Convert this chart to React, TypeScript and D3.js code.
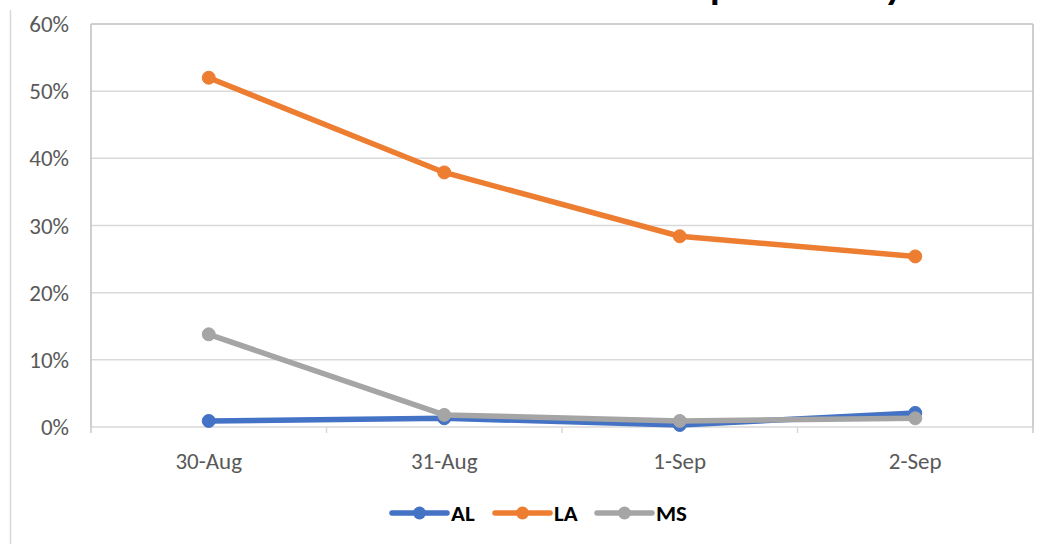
import React from "react";
import * as d3 from "d3";

const categories = ["30-Aug", "31-Aug", "1-Sep", "2-Sep"];
const seriesNames = ["AL", "LA", "MS"];
const alValues = [0.009, 0.013, 0.003, 0.021];
const laValues = [0.52, 0.379, 0.284, 0.254];
const msValues = [0.138, 0.018, 0.009, 0.013];
const yTicks = [0, 0.1, 0.2, 0.3, 0.4, 0.5, 0.6];
const colors = ["#4472C4", "#ED7D31", "#A5A5A5"];
const titleText = "Percent of customers without service per state by date";

const W = 1051;
const H = 544;
const plot = { left: 91, right: 1033, top: 24, bottom: 427 };

export default function App() {
  const series = [alValues, laValues, msValues];
  const x = d3
    .scaleBand<string>()
    .domain(categories)
    .range([plot.left, plot.right])
    .padding(0);
  const y = d3.scaleLinear().domain([0, 0.6]).range([plot.bottom, plot.top]);
  const cx = (i: number) => (x(categories[i]) as number) + x.bandwidth() / 2;
  const line = d3
    .line<number>()
    .x((_, i) => cx(i))
    .y((d) => y(d));
  const fmt = d3.format(".0%");
  const font = "Calibri, Carlito, Lato, 'Liberation Sans', Arial, sans-serif";
  const boundaries = d3.range(categories.length + 1).map((i) => plot.left + i * x.bandwidth());
  const legendX = [392, 495, 597];
  const legendY = 513;
  const drawOrder = [1, 0, 2];

  return (
    <svg
      width={W}
      height={H}
      style={{ position: "absolute", left: 0, top: 0, background: "#fff" }}
      fontFamily={font}
    >
      <rect x={0} y={0} width={W} height={H} fill="#fff" />
      <line x1={10.5} x2={10.5} y1={10} y2={H} stroke="#D9D9D9" strokeWidth={1.5} />
      <text
        x={95}
        y={0}
        textLength={890}
        lengthAdjust="spacingAndGlyphs"
        fontSize={32}
        fontWeight="bold"
        fill="#000"
      >
        {titleText}
      </text>
      {yTicks.map((t) => (
        <line
          key={"g" + t}
          x1={plot.left}
          x2={plot.right}
          y1={y(t)}
          y2={y(t)}
          stroke={t === 0.6 ? "#BFBFBF" : "#D9D9D9"}
          strokeWidth={1.5}
        />
      ))}
      <line x1={plot.right} x2={plot.right} y1={plot.top} y2={plot.bottom + 6} stroke="#BFBFBF" strokeWidth={1.5} />
      <line x1={plot.left} x2={plot.left} y1={plot.top} y2={plot.bottom + 6} stroke="#BFBFBF" strokeWidth={1.5} />
      {boundaries.map((b, i) => (
        <line key={"t" + i} x1={b} x2={b} y1={plot.bottom} y2={plot.bottom + 6} stroke="#D9D9D9" strokeWidth={1.5} />
      ))}
      {yTicks.map((t) => (
        <text key={"yl" + t} x={69} y={y(t) + 8} textAnchor="end" fontSize={23} fill="#595959">
          {fmt(t)}
        </text>
      ))}
      {categories.map((c, i) => (
        <text key={c} x={cx(i)} y={469} textAnchor="middle" fontSize={23} fill="#595959">
          {c}
        </text>
      ))}
      {drawOrder.map((si) => (
        <g key={seriesNames[si]}>
          <path
            d={line(series[si]) || ""}
            fill="none"
            stroke={colors[si]}
            strokeWidth={5.5}
            strokeLinejoin="round"
            strokeLinecap="round"
          />
          {series[si].map((v, i) => (
            <circle key={i} cx={cx(i)} cy={y(v)} r={6.5} fill={colors[si]} stroke={colors[si]} />
          ))}
        </g>
      ))}
      {seriesNames.map((n, i) => (
        <g key={"lg" + n}>
          <line
            x1={legendX[i]}
            x2={legendX[i] + 55}
            y1={legendY}
            y2={legendY}
            stroke={colors[i]}
            strokeWidth={5.5}
            strokeLinecap="round"
          />
          <circle cx={legendX[i] + 27.5} cy={legendY} r={6.5} fill={colors[i]} />
          <text x={legendX[i] + 59} y={legendY + 8} fontSize={23} fontWeight="bold" fill="#000">
            {n}
          </text>
        </g>
      ))}
    </svg>
  );
}
